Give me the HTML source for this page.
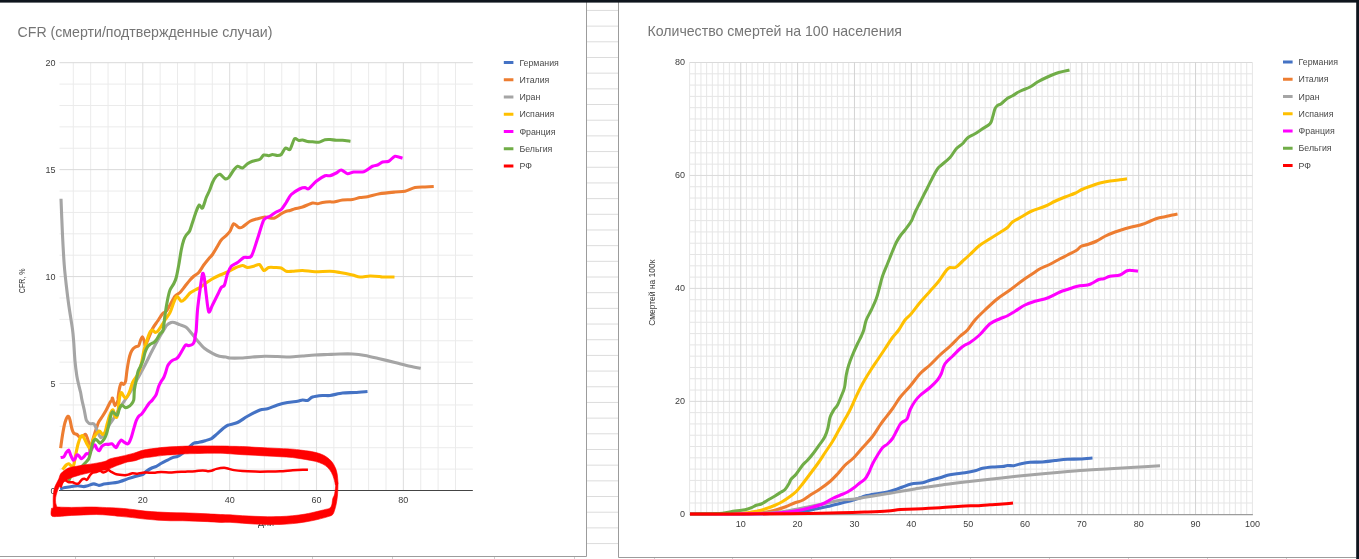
<!DOCTYPE html>
<html lang="ru"><head><meta charset="utf-8"><title>CFR</title>
<style>html,body{margin:0;padding:0;background:#fff;}body{width:1359px;height:559px;overflow:hidden;}svg{display:block;font-family:'Liberation Sans', Arial, sans-serif;will-change:transform;}.t{fill:#757575;font-size:14.6px;}.ax{fill:#3c3c3c;font-size:9px;}.lg{fill:#4a4a4a;font-size:8.8px;}.c{fill:none;stroke-linejoin:round;stroke-linecap:butt;}</style></head><body>
<svg width="1359" height="559" viewBox="0 0 1359 559">
<rect width="1359" height="559" fill="#fff"/>
<path d="M587 10.45H618M587 26.13H618M587 41.81H618M587 57.49H618M587 73.17H618M587 88.85H618M587 104.53H618M587 120.21H618M587 135.89H618M587 151.57H618M587 167.25H618M587 182.93H618M587 198.61H618M587 214.29H618M587 229.97H618M587 245.65H618M587 261.33H618M587 277.01H618M587 292.69H618M587 308.37H618M587 324.05H618M587 339.73H618M587 355.41H618M587 371.09H618M587 386.77H618M587 402.45H618M587 418.13H618M587 433.81H618M587 449.49H618M587 465.17H618M587 480.85H618M587 496.53H618M587 512.21H618M587 527.89H618M587 543.57H618" stroke="#dcdcdc" stroke-width="1" fill="none"/>
<path d="M75.5 557V559M154.5 557V559M233.5 557V559M312.5 557V559M392.5 557V559M494.5 557V559M574.5 557V559M654.5 558V559M732.5 558V559M811.5 558V559M890.5 558V559M970.5 558V559M1049.5 558V559M1128.5 558V559M1207.5 558V559M1286.5 558V559" stroke="#cfcfcf" stroke-width="1" fill="none"/>
<path d="M586.5 2V556.5H0" stroke="#9c9c9c" stroke-width="1" fill="none"/>
<path d="M618.5 2V557.5H1356" stroke="#9c9c9c" stroke-width="1" fill="none"/>
<path d="M59.5 469.11H472.8M59.5 447.72H472.8M59.5 426.33H472.8M59.5 404.94H472.8M59.5 362.16H472.8M59.5 340.77H472.8M59.5 319.38H472.8M59.5 297.99H472.8M59.5 255.21H472.8M59.5 233.82H472.8M59.5 212.43H472.8M59.5 191.04H472.8M59.5 148.26H472.8M59.5 126.87H472.8M59.5 105.48H472.8M59.5 84.09H472.8M73.3 62.7V490.5M90.67 62.7V490.5M108.05 62.7V490.5M125.42 62.7V490.5M160.16 62.7V490.5M177.53 62.7V490.5M194.91 62.7V490.5M212.28 62.7V490.5M247.02 62.7V490.5M264.39 62.7V490.5M281.77 62.7V490.5M299.14 62.7V490.5M333.88 62.7V490.5M351.25 62.7V490.5M368.63 62.7V490.5M386 62.7V490.5M420.74 62.7V490.5M438.11 62.7V490.5M455.49 62.7V490.5" stroke="#ebebeb" stroke-width="1" fill="none"/>
<path d="M142.79 62.7V490.5M229.65 62.7V490.5M316.51 62.7V490.5M403.37 62.7V490.5" stroke="#e0e0e0" stroke-width="1.1" fill="none"/>
<path d="M59.5 490.5H472.8M59.5 383.55H472.8M59.5 276.6H472.8M59.5 169.65H472.8M59.5 62.7H472.8" stroke="#d9d9d9" stroke-width="1" fill="none"/>
<path d="M689.6 503H1252.4M689.6 491.71H1252.4M689.6 480.41H1252.4M689.6 469.12H1252.4M689.6 457.82H1252.4M689.6 446.53H1252.4M689.6 435.23H1252.4M689.6 423.94H1252.4M689.6 412.64H1252.4M689.6 390.05H1252.4M689.6 378.76H1252.4M689.6 367.46H1252.4M689.6 356.17H1252.4M689.6 344.88H1252.4M689.6 333.58H1252.4M689.6 322.28H1252.4M689.6 310.99H1252.4M689.6 299.69H1252.4M689.6 277.11H1252.4M689.6 265.81H1252.4M689.6 254.51H1252.4M689.6 243.22H1252.4M689.6 231.93H1252.4M689.6 220.63H1252.4M689.6 209.33H1252.4M689.6 198.04H1252.4M689.6 186.75H1252.4M689.6 164.16H1252.4M689.6 152.86H1252.4M689.6 141.56H1252.4M689.6 130.27H1252.4M689.6 118.98H1252.4M689.6 107.68H1252.4M689.6 96.39H1252.4M689.6 85.09H1252.4M689.6 73.8H1252.4" stroke="#e5e5e5" stroke-width="1" fill="none"/>
<path d="M689.58 62.5V514.3M695.27 62.5V514.3M700.95 62.5V514.3M706.64 62.5V514.3M712.32 62.5V514.3M718.01 62.5V514.3M723.69 62.5V514.3M729.38 62.5V514.3M735.06 62.5V514.3M746.43 62.5V514.3M752.12 62.5V514.3M757.8 62.5V514.3M763.49 62.5V514.3M769.17 62.5V514.3M774.86 62.5V514.3M780.54 62.5V514.3M786.23 62.5V514.3M791.91 62.5V514.3M803.28 62.5V514.3M808.97 62.5V514.3M814.65 62.5V514.3M820.34 62.5V514.3M826.02 62.5V514.3M831.71 62.5V514.3M837.39 62.5V514.3M843.08 62.5V514.3M848.76 62.5V514.3M860.13 62.5V514.3M865.82 62.5V514.3M871.5 62.5V514.3M877.19 62.5V514.3M882.88 62.5V514.3M888.56 62.5V514.3M894.25 62.5V514.3M899.93 62.5V514.3M905.62 62.5V514.3M916.98 62.5V514.3M922.67 62.5V514.3M928.36 62.5V514.3M934.04 62.5V514.3M939.72 62.5V514.3M945.41 62.5V514.3M951.1 62.5V514.3M956.78 62.5V514.3M962.46 62.5V514.3M973.84 62.5V514.3M979.52 62.5V514.3M985.2 62.5V514.3M990.89 62.5V514.3M996.57 62.5V514.3M1002.26 62.5V514.3M1007.94 62.5V514.3M1013.63 62.5V514.3M1019.31 62.5V514.3M1030.68 62.5V514.3M1036.37 62.5V514.3M1042.05 62.5V514.3M1047.74 62.5V514.3M1053.42 62.5V514.3M1059.11 62.5V514.3M1064.8 62.5V514.3M1070.48 62.5V514.3M1076.16 62.5V514.3M1087.53 62.5V514.3M1093.22 62.5V514.3M1098.9 62.5V514.3M1104.59 62.5V514.3M1110.27 62.5V514.3M1115.96 62.5V514.3M1121.64 62.5V514.3M1127.33 62.5V514.3M1133.01 62.5V514.3M1144.38 62.5V514.3M1150.07 62.5V514.3M1155.75 62.5V514.3M1161.44 62.5V514.3M1167.12 62.5V514.3M1172.81 62.5V514.3M1178.49 62.5V514.3M1184.18 62.5V514.3M1189.87 62.5V514.3M1201.23 62.5V514.3M1206.92 62.5V514.3M1212.61 62.5V514.3M1218.29 62.5V514.3M1223.97 62.5V514.3M1229.66 62.5V514.3M1235.34 62.5V514.3M1241.03 62.5V514.3M1246.71 62.5V514.3M1252.4 62.5V514.3" stroke="#e6e6e6" stroke-width="1" fill="none"/>
<path d="M689.6 401.35H1252.4M689.6 288.4H1252.4M689.6 175.45H1252.4M689.6 62.5H1252.4" stroke="#dadada" stroke-width="1" fill="none"/>
<path d="M740.75 62.5V514.3M797.6 62.5V514.3M854.45 62.5V514.3M911.3 62.5V514.3M968.15 62.5V514.3M1025 62.5V514.3M1081.85 62.5V514.3M1138.7 62.5V514.3M1195.55 62.5V514.3" stroke="#d3d3d3" stroke-width="1" fill="none"/>
<path d="M689.6 514.65H1252.9" stroke="#9c9c9c" stroke-width="1.25" fill="none"/>
<text class="t" x="17.5" y="37.3" textLength="255" lengthAdjust="spacingAndGlyphs">CFR (смерти/подтвержденные случаи)</text>
<text class="t" x="647.5" y="35.9" textLength="254.5" lengthAdjust="spacingAndGlyphs">Количество смертей на 100 населения</text>
<text class="ax" x="55.4" y="493.9" text-anchor="end">0</text>
<text class="ax" x="55.4" y="386.95" text-anchor="end">5</text>
<text class="ax" x="55.4" y="280" text-anchor="end">10</text>
<text class="ax" x="55.4" y="173.05" text-anchor="end">15</text>
<text class="ax" x="55.4" y="66.1" text-anchor="end">20</text>
<text class="ax" x="142.79" y="503.2" text-anchor="middle">20</text>
<text class="ax" x="229.65" y="503.2" text-anchor="middle">40</text>
<text class="ax" x="316.51" y="503.2" text-anchor="middle">60</text>
<text class="ax" x="403.37" y="503.2" text-anchor="middle">80</text>
<text class="ax" x="266" y="525.6" text-anchor="middle">Дни</text>
<text class="ax" transform="translate(24.6 293.2) rotate(-90)" style="font-size:8.4px" textLength="24.8" lengthAdjust="spacingAndGlyphs">CFR, %</text>
<text class="ax" x="685.1" y="517" text-anchor="end">0</text>
<text class="ax" x="685.1" y="404.05" text-anchor="end">20</text>
<text class="ax" x="685.1" y="291.1" text-anchor="end">40</text>
<text class="ax" x="685.1" y="178.15" text-anchor="end">60</text>
<text class="ax" x="685.1" y="65.2" text-anchor="end">80</text>
<text class="ax" x="740.75" y="527.2" text-anchor="middle">10</text>
<text class="ax" x="797.6" y="527.2" text-anchor="middle">20</text>
<text class="ax" x="854.45" y="527.2" text-anchor="middle">30</text>
<text class="ax" x="911.3" y="527.2" text-anchor="middle">40</text>
<text class="ax" x="968.15" y="527.2" text-anchor="middle">50</text>
<text class="ax" x="1025" y="527.2" text-anchor="middle">60</text>
<text class="ax" x="1081.85" y="527.2" text-anchor="middle">70</text>
<text class="ax" x="1138.7" y="527.2" text-anchor="middle">80</text>
<text class="ax" x="1195.55" y="527.2" text-anchor="middle">90</text>
<text class="ax" x="1252.4" y="527.2" text-anchor="middle">100</text>
<text class="ax" transform="translate(654.7 325.8) rotate(-90)" textLength="66.2" lengthAdjust="spacingAndGlyphs">Смертей на 100к</text>
<rect x="503.8" y="61" width="9.6" height="3" fill="#4472c4"/>
<text class="lg" x="519.4" y="65.7">Германия</text>
<rect x="1283" y="60.5" width="9.6" height="3" fill="#4472c4"/>
<text class="lg" x="1298.6" y="65.2">Германия</text>
<rect x="503.8" y="78.25" width="9.6" height="3" fill="#ed7d31"/>
<text class="lg" x="519.4" y="82.95">Италия</text>
<rect x="1283" y="77.75" width="9.6" height="3" fill="#ed7d31"/>
<text class="lg" x="1298.6" y="82.45">Италия</text>
<rect x="503.8" y="95.5" width="9.6" height="3" fill="#a5a5a5"/>
<text class="lg" x="519.4" y="100.2">Иран</text>
<rect x="1283" y="95" width="9.6" height="3" fill="#a5a5a5"/>
<text class="lg" x="1298.6" y="99.7">Иран</text>
<rect x="503.8" y="112.75" width="9.6" height="3" fill="#ffc000"/>
<text class="lg" x="519.4" y="117.45">Испания</text>
<rect x="1283" y="112.25" width="9.6" height="3" fill="#ffc000"/>
<text class="lg" x="1298.6" y="116.95">Испания</text>
<rect x="503.8" y="130" width="9.6" height="3" fill="#ff00ff"/>
<text class="lg" x="519.4" y="134.7">Франция</text>
<rect x="1283" y="129.5" width="9.6" height="3" fill="#ff00ff"/>
<text class="lg" x="1298.6" y="134.2">Франция</text>
<rect x="503.8" y="147.25" width="9.6" height="3" fill="#70ad47"/>
<text class="lg" x="519.4" y="151.95">Бельгия</text>
<rect x="1283" y="146.75" width="9.6" height="3" fill="#70ad47"/>
<text class="lg" x="1298.6" y="151.45">Бельгия</text>
<rect x="503.8" y="164.5" width="9.6" height="3" fill="#ff0000"/>
<text class="lg" x="519.4" y="169.2">РФ</text>
<rect x="1283" y="164" width="9.6" height="3" fill="#ff0000"/>
<text class="lg" x="1298.6" y="168.7">РФ</text>
<path d="M59 490.5H472.8" stroke="#444444" stroke-width="1" fill="none"/>
<path class="c" d="M60.05 488.85C60.72 488.68 63.56 487.89 65.06 487.59C66.56 487.29 69.66 486.84 71.33 486.59C73 486.34 75.92 485.71 77.59 485.71C79.26 485.71 82.52 486.59 83.86 486.59C85.2 486.59 86.28 486.08 87.62 485.71C88.96 485.34 92.38 483.88 93.88 483.83C95.38 483.78 97.56 485.31 98.9 485.34C100.24 485.37 102.41 484.37 103.91 484.09C105.41 483.81 108.34 483.44 110.18 483.21C112.02 482.98 115.38 482.9 117.69 482.33C120 481.76 125.21 479.69 127.52 478.9C129.83 478.11 133.03 476.98 135.04 476.39C137.05 475.8 141.06 475.18 142.56 474.51C144.06 473.84 145.15 472.21 146.32 471.38C147.49 470.55 149.99 468.92 151.33 468.25C152.67 467.58 155 467.04 156.34 466.37C157.68 465.7 159.85 464.07 161.35 463.23C162.85 462.39 166.12 460.85 167.62 460.1C169.12 459.35 171.29 458.09 172.63 457.59C173.97 457.09 176.3 456.92 177.64 456.34C178.98 455.76 181.32 454.21 182.66 453.21C184 452.21 186.58 449.82 187.67 448.82C188.76 447.82 189.97 446.44 190.8 445.69C191.63 444.94 192.84 443.63 193.93 443.18C195.02 442.73 197.45 442.64 198.95 442.31C200.45 441.98 203.54 441.18 205.21 440.68C206.88 440.18 209.98 439.39 211.48 438.55C212.98 437.71 214.99 435.71 216.49 434.41C217.99 433.11 221.26 429.99 222.76 428.77C224.26 427.55 225.8 426.1 227.77 425.26C229.74 424.42 234.87 423.7 237.5 422.5C240.13 421.3 244.5 417.92 247.5 416.25C250.5 414.58 257.33 411 260 410C262.67 409 265.17 409.42 267.5 408.75C269.83 408.08 274.83 405.83 277.5 405C280.17 404.17 284.83 403 287.5 402.5C290.17 402 295.5 401.58 297.5 401.25C299.5 400.92 301.17 400.1 302.5 400C303.83 399.9 306.17 400.9 307.5 400.5C308.83 400.1 310.5 397.67 312.5 397C314.5 396.33 320.17 395.7 322.5 395.5C324.83 395.3 327.33 395.83 330 395.5C332.67 395.17 339.17 393.4 342.5 393C345.83 392.6 351.67 392.7 355 392.5C358.33 392.3 365.83 391.63 367.5 391.5" stroke="#4472c4" stroke-width="3.1"/>
<path class="c" d="M60.62 448.12C60.87 446.37 61.92 438.42 62.5 435C63.08 431.58 64.25 425 65 422.5C65.75 420 67.45 416.58 68.12 416.25C68.79 415.92 69.5 418.33 70 420C70.5 421.67 71.38 427 71.88 428.75C72.38 430.5 73.08 432.37 73.75 433.12C74.42 433.87 76.13 433.88 76.88 434.38C77.63 434.88 78.63 436.63 79.38 436.88C80.13 437.13 81.67 436.58 82.5 436.25C83.33 435.92 84.95 434.05 85.62 434.38C86.29 434.71 87 437.33 87.5 438.75C88 440.17 89.01 443.33 89.38 445C89.75 446.67 89.75 452.08 90.25 451.25C90.75 450.42 92.32 441.75 93.12 438.75C93.92 435.75 95.5 431 96.25 428.75C97 426.5 97.92 423.55 98.75 421.88C99.58 420.21 101.5 417.83 102.5 416.25C103.5 414.67 105.25 411.83 106.25 410C107.25 408.17 109.25 403.83 110 402.5C110.75 401.17 111.55 400.58 111.88 400C112.21 399.42 112.08 397.37 112.5 398.12C112.92 398.87 114.25 405.37 115 405.62C115.75 405.87 117.7 401.08 118.12 400C118.54 398.92 117.95 399 118.12 397.5C118.29 396 118.96 390.67 119.38 388.75C119.8 386.83 120.67 383.7 121.25 383.12C121.83 382.54 123.17 384.63 123.75 384.38C124.33 384.13 125.2 383 125.62 381.25C126.04 379.5 126.46 374.08 126.88 371.25C127.3 368.42 128.25 362.42 128.75 360C129.25 357.58 130.04 354.62 130.62 353.12C131.2 351.62 132.45 349.58 133.12 348.75C133.79 347.92 134.87 347.3 135.62 346.88C136.37 346.46 138.08 346.54 138.75 345.62C139.42 344.7 140.12 341.17 140.62 340C141.12 338.83 142 336.71 142.5 336.88C143 337.05 143.96 340.17 144.38 341.25C144.8 342.33 144.54 346.67 145.62 345C146.7 343.33 150.92 331.92 152.5 328.75C154.08 325.58 156.17 323.25 157.5 321.25C158.83 319.25 161.33 315.08 162.5 313.75C163.67 312.42 165.25 312.42 166.25 311.25C167.25 310.08 168.83 307 170 305C171.17 303 173.67 297.92 175 296.25C176.33 294.58 178.67 293.83 180 292.5C181.33 291.17 183.67 287.92 185 286.25C186.33 284.58 188.83 281.33 190 280C191.17 278.67 192.58 277.25 193.75 276.25C194.92 275.25 197.42 274 198.75 272.5C200.08 271 202.42 266.83 203.75 265C205.08 263.17 207.58 260.15 208.75 258.75C209.92 257.35 211.33 256.17 212.5 254.5C213.67 252.83 216.33 248.18 217.5 246.25C218.67 244.32 220.08 241.43 221.25 240C222.42 238.57 225.08 236.67 226.25 235.5C227.42 234.33 229 232.82 230 231.25C231 229.68 232.58 224.25 233.75 223.75C234.92 223.25 237.58 227.07 238.75 227.5C239.92 227.93 241 227.83 242.5 227C244 226.17 248 222.35 250 221.25C252 220.15 255.5 219.32 257.5 218.75C259.5 218.18 262.83 217.07 265 217C267.17 216.93 271.58 218.68 273.75 218.25C275.92 217.82 279.58 214.68 281.25 213.75C282.92 212.82 285.08 211.68 286.25 211.25C287.42 210.82 288.83 210.83 290 210.5C291.17 210.17 293.33 209.22 295 208.75C296.67 208.28 300.17 207.77 302.5 207C304.83 206.23 310.5 203.43 312.5 203C314.5 202.57 316.17 203.82 317.5 203.75C318.83 203.68 320.83 202.77 322.5 202.5C324.17 202.23 328.5 201.82 330 201.75C331.5 201.68 332.08 202.23 333.75 202C335.42 201.77 340 200.33 342.5 200C345 199.67 350.17 199.83 352.5 199.5C354.83 199.17 358 197.87 360 197.5C362 197.13 364.9 197.25 367.5 196.75C370.1 196.25 375.83 194.38 379.5 193.75C383.17 193.12 391.6 192.33 395 192C398.4 191.67 402.33 191.85 405 191.25C407.67 190.65 412.33 188.07 415 187.5C417.67 186.93 422.5 187.13 425 187C427.5 186.87 432.58 186.57 433.75 186.5" stroke="#ed7d31" stroke-width="3.1"/>
<path class="c" d="M61 198.75C61.2 203.58 62.07 226.17 62.5 235C62.93 243.83 63.75 258.33 64.25 265C64.75 271.67 65.65 279.67 66.25 285C66.85 290.33 67.92 299.1 68.75 305C69.58 310.9 71.83 324.25 72.5 329.25C73.17 334.25 73.42 338.23 73.75 342.5C74.08 346.77 74.58 356.75 75 361.25C75.42 365.75 76.38 373.08 76.88 376.25C77.38 379.42 78.25 382.83 78.75 385C79.25 387.17 80.2 390.55 80.62 392.5C81.04 394.45 81.4 397.29 81.88 399.62C82.36 401.95 83.67 407.28 84.25 410C84.83 412.72 85.65 418.25 86.25 420C86.85 421.75 88.17 422.62 88.75 423.12C89.33 423.62 89.95 423.67 90.62 423.75C91.29 423.83 93.08 423.33 93.75 423.75C94.42 424.17 95.12 425.88 95.62 426.88C96.12 427.88 97 430.08 97.5 431.25C98 432.42 98.88 434.79 99.38 435.62C99.88 436.45 100.5 437.92 101.25 437.5C102 437.08 103.83 434.33 105 432.5C106.17 430.67 108.67 425.92 110 423.75C111.33 421.58 113.67 418.42 115 416.25C116.33 414.08 118.67 409.67 120 407.5C121.33 405.33 123.67 402 125 400C126.33 398 128.33 395.33 130 392.5C131.67 389.67 135.5 382.42 137.5 378.75C139.5 375.08 143 368.83 145 365C147 361.17 150.5 353.83 152.5 350C154.5 346.17 158.5 338.92 160 336.25C161.5 333.58 162.84 331.47 163.75 330C164.66 328.53 165.84 326.21 166.82 325.21C167.8 324.21 170.12 322.89 171.12 322.53C172.12 322.17 173.19 322.24 174.33 322.53C175.47 322.82 178.13 324.04 179.7 324.68C181.27 325.32 184.57 326.22 186.14 327.36C187.71 328.5 189.93 331.4 191.5 333.26C193.07 335.12 196.22 339.31 197.94 341.31C199.66 343.31 202.38 346.63 204.38 348.28C206.38 349.93 210.96 352.58 212.96 353.65C214.96 354.72 217.68 355.87 219.4 356.33C221.12 356.79 224.43 356.86 225.84 357.08C227.25 357.3 228.11 357.88 230 358C231.89 358.12 237 358.13 240 358C243 357.87 249.17 357.23 252.5 357C255.83 356.77 261.67 356.32 265 356.25C268.33 356.18 274.17 356.4 277.5 356.5C280.83 356.6 286.67 357.07 290 357C293.33 356.93 299.17 356.27 302.5 356C305.83 355.73 311.67 355.2 315 355C318.33 354.8 324.17 354.63 327.5 354.5C330.83 354.37 336.67 354.07 340 354C343.33 353.93 349.17 353.8 352.5 354C355.83 354.2 361.4 354.87 365 355.5C368.6 356.13 375.5 357.82 379.5 358.75C383.5 359.68 390.93 361.5 395 362.5C399.07 363.5 406.57 365.48 410 366.25C413.43 367.02 419.32 367.98 420.75 368.25" stroke="#a5a5a5" stroke-width="3.1"/>
<path class="c" d="M62.5 469.62C63 469 65.42 465.78 66.25 465C67.08 464.22 68 463.58 68.75 463.75C69.5 463.92 71.21 466.08 71.88 466.25C72.55 466.42 73.25 466.5 73.75 465C74.25 463.5 75.04 457.83 75.62 455C76.2 452.17 77.45 446.17 78.12 443.75C78.79 441.33 80.04 437.96 80.62 436.88C81.2 435.8 81.92 435.2 82.5 435.62C83.08 436.04 84.33 438.75 85 440C85.67 441.25 86.83 443.92 87.5 445C88.17 446.08 89.33 448.62 90 448.12C90.67 447.62 91.83 442.92 92.5 441.25C93.17 439.58 94.25 436.87 95 435.62C95.75 434.37 97.45 432.46 98.12 431.88C98.79 431.3 99.42 430.92 100 431.25C100.58 431.58 101.83 434.21 102.5 434.38C103.17 434.55 104.42 433.75 105 432.5C105.58 431.25 106.3 427.17 106.88 425C107.46 422.83 108.71 418.17 109.38 416.25C110.05 414.33 111.36 411.42 111.88 410.62C112.4 409.82 112.84 409.46 113.26 410.25C113.68 411.04 114.56 415.62 115.04 416.51C115.52 417.4 116.41 417.79 116.83 416.96C117.25 416.13 117.88 412.34 118.18 410.25C118.48 408.16 118.77 403.52 119.07 401.31C119.37 399.1 120.05 394.83 120.41 393.7C120.77 392.57 121.33 392.51 121.75 392.81C122.17 393.11 123.06 395.22 123.54 395.94C124.02 396.66 124.79 398.18 125.33 398.18C125.87 398.18 126.91 397.07 127.57 395.94C128.23 394.81 129.54 391.59 130.25 389.68C130.96 387.77 131.96 383.59 132.93 381.63C133.9 379.67 136.56 376.72 137.5 375C138.44 373.28 139.42 370.58 140 368.75C140.58 366.92 141.38 363.58 141.88 361.25C142.38 358.92 143.17 353.75 143.75 351.25C144.33 348.75 145.58 344.67 146.25 342.5C146.92 340.33 148.17 336.5 148.75 335C149.33 333.5 150.12 331.92 150.62 331.25C151.12 330.58 151.83 329.83 152.5 330C153.17 330.17 154.79 332.5 155.62 332.5C156.45 332.5 157.5 331.67 158.75 330C160 328.33 163.5 322.33 165 320C166.5 317.67 168.83 314.83 170 312.5C171.17 310.17 172.82 304.67 173.75 302.5C174.68 300.33 176 296.42 177 296.25C178 296.08 180.18 300.92 181.25 301.25C182.32 301.58 183.83 299.85 185 298.75C186.17 297.65 188.67 294.17 190 293C191.33 291.83 193.67 290.73 195 290C196.33 289.27 198.67 288.33 200 287.5C201.33 286.67 203.5 284.82 205 283.75C206.5 282.68 209.25 280.67 211.25 279.5C213.25 278.33 217.83 276 220 275C222.17 274 225.5 272.93 227.5 272C229.5 271.07 233 268.87 235 268C237 267.13 240.83 265.57 242.5 265.5C244.17 265.43 246 267.4 247.5 267.5C249 267.6 252.15 266.65 253.75 266.25C255.35 265.85 258.17 263.93 259.5 264.5C260.83 265.07 262.52 270.1 263.75 270.5C264.98 270.9 267.25 267.9 268.75 267.5C270.25 267.1 273.33 267.43 275 267.5C276.67 267.57 279.75 267.5 281.25 268C282.75 268.5 284.75 270.82 286.25 271.25C287.75 271.68 290.33 271.35 292.5 271.25C294.67 271.15 299.5 270.43 302.5 270.5C305.5 270.57 311.33 271.65 315 271.75C318.67 271.85 326.67 271.15 330 271.25C333.33 271.35 337 272 340 272.5C343 273 349.83 274.4 352.5 275C355.17 275.6 357.67 276.87 360 277C362.33 277.13 367.4 276.07 370 276C372.6 275.93 377.83 276.37 379.5 276.5C381.17 276.63 380.5 276.93 382.5 277C384.5 277.07 392.9 277 394.5 277" stroke="#ffc000" stroke-width="3.1"/>
<path class="c" d="M60.62 457.5C61.04 457.42 63 457.55 63.75 456.88C64.5 456.21 65.58 453.42 66.25 452.5C66.92 451.58 68.17 449.67 68.75 450C69.33 450.33 70.04 453.67 70.62 455C71.2 456.33 72.54 459.5 73.12 460C73.7 460.5 74.5 459.42 75 458.75C75.5 458.08 76.38 455.42 76.88 455C77.38 454.58 78.17 455.12 78.75 455.62C79.33 456.12 80.58 458.58 81.25 458.75C81.92 458.92 83.08 457.55 83.75 456.88C84.42 456.21 85.58 454.17 86.25 453.75C86.92 453.33 88.08 454.25 88.75 453.75C89.42 453.25 90.67 451 91.25 450C91.83 449 92.62 446.92 93.12 446.25C93.62 445.58 94.5 444.67 95 445C95.5 445.33 96.3 448 96.88 448.75C97.46 449.5 98.71 450.95 99.38 450.62C100.05 450.29 101.13 447.08 101.88 446.25C102.63 445.42 104.08 444.63 105 444.38C105.92 444.13 107.83 444.46 108.75 444.38C109.67 444.3 111.13 443.5 111.88 443.75C112.63 444 113.8 445.75 114.38 446.25C114.96 446.75 115.67 447.92 116.25 447.5C116.83 447.08 118.08 444.12 118.75 443.12C119.42 442.12 120.58 440.17 121.25 440C121.92 439.83 123 441.38 123.75 441.88C124.5 442.38 126.21 443.58 126.88 443.75C127.55 443.92 128.17 443.95 128.75 443.12C129.33 442.29 130.58 439.42 131.25 437.5C131.92 435.58 133.08 431 133.75 428.75C134.42 426.5 135.58 422.29 136.25 420.62C136.92 418.95 138 417.17 138.75 416.25C139.5 415.33 141.05 414.67 141.88 413.75C142.71 412.83 144.08 410.71 145 409.38C145.92 408.05 147.83 404.92 148.75 403.75C149.67 402.58 151.21 401.37 151.88 400.62C152.55 399.87 153.17 398.95 153.75 398.12C154.33 397.29 155.58 395.96 156.25 394.38C156.92 392.8 158.08 388 158.75 386.25C159.42 384.5 160.58 382.42 161.25 381.25C161.92 380.08 163.17 378.67 163.75 377.5C164.33 376.33 165.12 374 165.62 372.5C166.12 371 166.92 367.58 167.5 366.25C168.08 364.92 169.25 363.33 170 362.5C170.75 361.67 172.29 360.5 173.12 360C173.95 359.5 175.5 359.25 176.25 358.75C177 358.25 177.92 357.42 178.75 356.25C179.58 355.08 181.58 351.5 182.5 350C183.42 348.5 184.79 345.58 185.62 345C186.45 344.42 187.83 345.7 188.75 345.62C189.67 345.54 191.75 344.96 192.5 344.38C193.25 343.8 193.96 342.67 194.38 341.25C194.8 339.83 195.37 335.25 195.62 333.75C195.87 332.25 196 333.17 196.25 330C196.5 326.83 197 315.33 197.5 310C198 304.67 199.33 294.83 200 290C200.67 285.17 201.93 275.42 202.5 273.75C203.07 272.08 203.75 274.67 204.25 277.5C204.75 280.33 205.65 290.4 206.25 295C206.85 299.6 207.92 310.67 208.75 312C209.58 313.33 211.33 307.27 212.5 305C213.67 302.73 216.33 297.33 217.5 295C218.67 292.67 220.32 288.83 221.25 287.5C222.18 286.17 223.67 286.83 224.5 285C225.33 283.17 226.6 276.25 227.5 273.75C228.4 271.25 229.92 267.75 231.25 266.25C232.58 264.75 235.83 263.67 237.5 262.5C239.17 261.33 241.92 258.33 243.75 257.5C245.58 256.67 249.42 258.75 251.25 256.25C253.08 253.75 255.83 243.58 257.5 238.75C259.17 233.92 262.08 223 263.75 220C265.42 217 268.33 217.32 270 216.25C271.67 215.18 274.75 212.9 276.25 212C277.75 211.1 279.92 210.77 281.25 209.5C282.58 208.23 284.92 204.5 286.25 202.5C287.58 200.5 289.42 196.33 291.25 194.5C293.08 192.67 298.17 189.68 300 188.75C301.83 187.82 303.83 187.5 305 187.5C306.17 187.5 307.25 189.58 308.75 188.75C310.25 187.92 314.08 182.98 316.25 181.25C318.42 179.52 323.17 176.48 325 175.75C326.83 175.02 328.5 176.12 330 175.75C331.5 175.38 334.75 173.77 336.25 173C337.75 172.23 339.75 169.9 341.25 170C342.75 170.1 345.83 173.48 347.5 173.75C349.17 174.02 351.58 172.27 353.75 172C355.92 171.73 361.25 172.52 363.75 171.75C366.25 170.98 370.67 167.15 372.5 166.25C374.33 165.35 376.17 165.57 377.5 165C378.83 164.43 381 162.5 382.5 162C384 161.5 387.08 162.02 388.75 161.25C390.42 160.48 393.17 156.65 395 156.25C396.83 155.85 401.5 157.98 402.5 158.25" stroke="#ff00ff" stroke-width="3.1"/>
<path class="c" d="M68.6 481C68.79 480.6 69.6 478.85 70 478C70.4 477.15 70.53 475.67 71.6 474.6C72.67 473.53 76.13 471.61 78 470C79.87 468.39 84.19 464 85.62 462.5C87.05 461 88.08 460.08 88.75 458.75C89.42 457.42 90.12 454.5 90.62 452.5C91.12 450.5 91.92 445.5 92.5 443.75C93.08 442 94.33 439.8 95 439.38C95.67 438.96 96.83 440.12 97.5 440.62C98.17 441.12 99.33 443.04 100 443.12C100.67 443.2 101.83 442 102.5 441.25C103.17 440.5 104.42 438.67 105 437.5C105.58 436.33 106.38 434.17 106.88 432.5C107.38 430.83 108.25 427.17 108.75 425C109.25 422.83 110.12 418 110.62 416.25C111.12 414.5 111.92 412.21 112.5 411.88C113.08 411.55 114.33 413.33 115 413.75C115.67 414.17 116.92 415.67 117.5 415C118.08 414.33 118.8 410.08 119.38 408.75C119.96 407.42 121.13 405.17 121.88 405C122.63 404.83 124.17 407.25 125 407.5C125.83 407.75 127.29 407.3 128.12 406.88C128.95 406.46 130.5 405.3 131.25 404.38C132 403.46 133.33 401.92 133.75 400C134.17 398.08 134.05 392.67 134.38 390C134.71 387.33 135.75 382.5 136.25 380C136.75 377.5 137.54 373.08 138.12 371.25C138.7 369.42 139.95 367.75 140.62 366.25C141.29 364.75 142.54 361.83 143.12 360C143.7 358.17 144.42 354.25 145 352.5C145.58 350.75 146.83 347.96 147.5 346.88C148.17 345.8 149.17 344.96 150 344.38C150.83 343.8 152.92 343.08 153.75 342.5C154.58 341.92 155.42 341.17 156.25 340C157.08 338.83 159.08 335.08 160 333.75C160.92 332.42 162.45 332.5 163.12 330C163.79 327.5 164.42 319 165 315C165.58 311 166.83 303.33 167.5 300C168.17 296.67 169.17 292.17 170 290C170.83 287.83 172.92 285.42 173.75 283.75C174.58 282.08 175.58 280 176.25 277.5C176.92 275 178.08 268.67 178.75 265C179.42 261.33 180.58 253.33 181.25 250C181.92 246.67 183.08 242 183.75 240C184.42 238 185.48 236.17 186.25 235C187.02 233.83 188.67 232.92 189.5 231.25C190.33 229.58 191.6 225.17 192.5 222.5C193.4 219.83 195.35 213.58 196.25 211.25C197.15 208.92 198.42 205.43 199.25 205C200.08 204.57 201.57 209 202.5 208C203.43 207 205.32 199.83 206.25 197.5C207.18 195.17 208.67 192.5 209.5 190.5C210.33 188.5 211.6 184.4 212.5 182.5C213.4 180.6 215.25 177.35 216.25 176.25C217.25 175.15 218.83 173.92 220 174.25C221.17 174.58 223.83 178.32 225 178.75C226.17 179.18 227.58 178.67 228.75 177.5C229.92 176.33 232.58 171.5 233.75 170C234.92 168.5 236.33 166.52 237.5 166.25C238.67 165.98 241.17 168.33 242.5 168C243.83 167.67 246.17 164.65 247.5 163.75C248.83 162.85 250.83 161.85 252.5 161.25C254.17 160.65 258.5 160.08 260 159.25C261.5 158.42 262.58 155.47 263.75 155C264.92 154.53 267.58 155.82 268.75 155.75C269.92 155.68 271.33 154.53 272.5 154.5C273.67 154.47 276.33 155.5 277.5 155.5C278.67 155.5 280.18 155.5 281.25 154.5C282.32 153.5 284.33 148.67 285.5 148C286.67 147.33 288.8 150.73 290 149.5C291.2 148.27 293.33 139.95 294.5 138.75C295.67 137.55 297.68 140.33 298.75 140.5C299.82 140.67 301.33 139.87 302.5 140C303.67 140.13 306.17 141.27 307.5 141.5C308.83 141.73 311 141.65 312.5 141.75C314 141.85 317.08 142.52 318.75 142.25C320.42 141.98 323.5 140.12 325 139.75C326.5 139.38 328.5 139.43 330 139.5C331.5 139.57 334.58 140.15 336.25 140.25C337.92 140.35 340.6 140.12 342.5 140.25C344.4 140.38 349.43 141.12 350.5 141.25" stroke="#70ad47" stroke-width="3.1"/>
<path class="c" d="M60.5 487.5C60.77 486.77 61.89 482.99 62.5 482C63.11 481.01 64.3 480.09 65.06 480.08C65.82 480.07 67.2 481.65 68.2 481.95C69.2 482.25 71.49 482.08 72.58 482.33C73.67 482.58 75.5 483.71 76.34 483.83C77.18 483.95 78.1 483.79 78.85 483.21C79.6 482.63 81.23 480.04 81.98 479.45C82.73 478.86 83.82 478.77 84.49 478.82C85.16 478.87 86.24 480.32 86.99 479.82C87.74 479.32 89.38 476.03 90.13 475.06C90.88 474.09 91.8 472.98 92.63 472.56C93.46 472.14 95.39 472.18 96.39 471.93C97.39 471.68 99.31 470.63 100.15 470.68C100.99 470.73 101.99 472.14 102.66 472.31C103.33 472.48 104.41 472.23 105.16 471.93C105.91 471.63 107.46 470.05 108.3 470.05C109.14 470.05 110.51 471.43 111.43 471.93C112.35 472.43 114.36 473.48 115.19 473.81C116.02 474.14 116.38 474.26 117.69 474.44C119 474.62 123.53 475.13 125.01 475.14C126.49 475.15 127.77 474.76 128.77 474.51C129.77 474.26 131.36 473.38 132.53 473.26C133.7 473.14 136.2 473.71 137.54 473.63C138.88 473.55 141.06 472.76 142.56 472.63C144.06 472.5 147.15 472.63 148.82 472.63C150.49 472.63 153.42 472.71 155.09 472.63C156.76 472.55 159.34 472.04 161.35 472.01C163.36 471.98 168.12 472.38 170.13 472.38C172.14 472.38 174.39 472.11 176.39 472.01C178.39 471.91 182.65 471.75 185.16 471.63C187.67 471.51 192.85 471.3 195.19 471.13C197.53 470.96 201.04 470.38 202.71 470.38C204.38 470.38 206.55 471.08 207.72 471.13C208.89 471.18 210.31 471.05 211.48 470.75C212.65 470.45 214.82 469.25 216.49 468.87C218.16 468.49 222.34 467.87 224.01 467.87C225.68 467.87 227.68 468.57 229.02 468.87C230.36 469.17 232.24 469.83 234.04 470.13C235.84 470.43 239.73 470.9 242.53 471.1C245.33 471.3 251.72 471.53 255.06 471.6C258.4 471.67 264.25 471.63 267.59 471.6C270.93 471.57 276.79 471.52 280.13 471.35C283.47 471.18 289.65 470.55 292.66 470.35C295.67 470.15 300.64 469.92 302.68 469.85C304.72 469.78 307.24 469.85 307.94 469.85" stroke="#ff0000" stroke-width="2.5"/>
<path class="c" d="M690 514C703.33 513.93 751.67 513.93 770 513.6C788.33 513.27 792.5 512.77 800 512C807.5 511.23 810.42 509.92 815 509C819.58 508.08 822.92 507.54 827.5 506.5C832.08 505.46 838.33 503.79 842.5 502.75C846.67 501.71 849.58 501.08 852.5 500.25C855.42 499.42 857.92 498.46 860 497.75C862.08 497.04 862.5 496.62 865 496C867.5 495.38 871.25 494.67 875 494C878.75 493.33 884.17 492.71 887.5 492C890.83 491.29 892.5 490.58 895 489.75C897.5 488.92 899.79 487.96 902.5 487C905.21 486.04 907.92 484.71 911.25 484C914.58 483.29 919.38 483.38 922.5 482.75C925.62 482.12 927.08 481.08 930 480.25C932.92 479.42 937.08 478.58 940 477.75C942.92 476.92 945 475.88 947.5 475.25C950 474.62 952.08 474.42 955 474C957.92 473.58 961.67 473.29 965 472.75C968.33 472.21 972.08 471.5 975 470.75C977.92 470 979.58 468.88 982.5 468.25C985.42 467.62 989.17 467.29 992.5 467C995.83 466.71 1000 466.75 1002.5 466.5C1005 466.25 1005.62 465.62 1007.5 465.5C1009.38 465.38 1011.67 466 1013.75 465.75C1015.83 465.5 1017.29 464.58 1020 464C1022.71 463.42 1026.25 462.58 1030 462.25C1033.75 461.92 1038.33 462.29 1042.5 462C1046.67 461.71 1050.83 460.96 1055 460.5C1059.17 460.04 1063.33 459.5 1067.5 459.25C1071.67 459 1075.83 459.21 1080 459C1084.17 458.79 1090.42 458.17 1092.5 458" stroke="#4472c4" stroke-width="3.05"/>
<path class="c" d="M690 514C699.17 513.97 732.92 514.01 745 513.8C757.08 513.59 757.5 513.34 762.5 512.75C767.5 512.16 771.25 511.21 775 510.25C778.75 509.29 781.67 508.25 785 507C788.33 505.75 792.08 503.88 795 502.75C797.92 501.62 800 501.5 802.5 500.25C805 499 807.08 497.12 810 495.25C812.92 493.38 816.67 491.29 820 489C823.33 486.71 827.08 484 830 481.5C832.92 479 835 476.71 837.5 474C840 471.29 842.29 467.96 845 465.25C847.71 462.54 850.83 460.67 853.75 457.75C856.67 454.83 859.38 451.29 862.5 447.75C865.62 444.21 869.58 440.25 872.5 436.5C875.42 432.75 878.12 428 880 425.25C881.88 422.5 881.67 422.75 883.75 420C885.83 417.25 889.79 412.5 892.5 408.75C895.21 405 897.08 401.25 900 397.5C902.92 393.75 906.67 390.21 910 386.25C913.33 382.29 916.67 377.29 920 373.75C923.33 370.21 926.67 368.12 930 365C933.33 361.88 936.67 358.12 940 355C943.33 351.88 946.67 349.38 950 346.25C953.33 343.12 957.08 338.96 960 336.25C962.92 333.54 965 332.71 967.5 330C970 327.29 972.08 323.33 975 320C977.92 316.67 981.25 313.54 985 310C988.75 306.46 993.33 302.08 997.5 298.75C1001.67 295.42 1005.83 293.04 1010 290C1014.17 286.96 1018.75 283.21 1022.5 280.5C1026.25 277.79 1029.58 275.71 1032.5 273.75C1035.42 271.79 1037.08 270.33 1040 268.75C1042.92 267.17 1046.67 265.92 1050 264.25C1053.33 262.58 1057.08 260.29 1060 258.75C1062.92 257.21 1064.79 256.38 1067.5 255C1070.21 253.62 1073.96 251.96 1076.25 250.5C1078.54 249.04 1079.38 247.25 1081.25 246.25C1083.12 245.25 1085 245.33 1087.5 244.5C1090 243.67 1093.33 242.62 1096.25 241.25C1099.17 239.88 1101.88 237.79 1105 236.25C1108.12 234.71 1111.67 233.25 1115 232C1118.33 230.75 1121.67 229.71 1125 228.75C1128.33 227.79 1132.08 227 1135 226.25C1137.92 225.5 1140 225.08 1142.5 224.25C1145 223.42 1147.5 222.25 1150 221.25C1152.5 220.25 1155 219 1157.5 218.25C1160 217.5 1162.5 217.29 1165 216.75C1167.5 216.21 1170.42 215.46 1172.5 215C1174.58 214.54 1176.67 214.17 1177.5 214" stroke="#ed7d31" stroke-width="3.05"/>
<path class="c" d="M690 514C700 513.95 735 514.03 750 513.7C765 513.37 772.5 512.7 780 512C787.5 511.3 790 510.42 795 509.5C800 508.58 805 507.5 810 506.5C815 505.5 820 504.54 825 503.5C830 502.46 835 501 840 500.25C845 499.5 850.83 499.5 855 499C859.17 498.5 861.25 497.88 865 497.25C868.75 496.62 873.33 495.92 877.5 495.25C881.67 494.58 885.83 493.96 890 493.25C894.17 492.54 898.33 491.71 902.5 491C906.67 490.29 910.83 489.67 915 489C919.17 488.33 923.33 487.62 927.5 487C931.67 486.38 935.83 485.83 940 485.25C944.17 484.67 948.33 484.04 952.5 483.5C956.67 482.96 959.58 482.62 965 482C970.42 481.38 977.5 480.58 985 479.75C992.5 478.92 1001.67 477.88 1010 477C1018.33 476.12 1026.67 475.29 1035 474.5C1043.33 473.71 1051.67 472.96 1060 472.25C1068.33 471.54 1076.67 470.83 1085 470.25C1093.33 469.67 1101.67 469.25 1110 468.75C1118.33 468.25 1126.67 467.75 1135 467.25C1143.33 466.75 1155.83 466 1160 465.75" stroke="#a5a5a5" stroke-width="3.05"/>
<path class="c" d="M690 514C696.67 513.97 720.42 514.01 730 513.8C739.58 513.59 742.92 513.22 747.5 512.75C752.08 512.28 754.58 511.62 757.5 511C760.42 510.38 762.08 509.96 765 509C767.92 508.04 772.08 506.5 775 505.25C777.92 504 780 502.96 782.5 501.5C785 500.04 787.71 498.17 790 496.5C792.29 494.83 794.17 493.58 796.25 491.5C798.33 489.42 800.21 486.92 802.5 484C804.79 481.08 807.5 477.33 810 474C812.5 470.67 815 467.54 817.5 464C820 460.46 822.5 456.5 825 452.75C827.5 449 830.21 445.25 832.5 441.5C834.79 437.75 836.67 434 838.75 430.25C840.83 426.5 843.12 422.38 845 419C846.88 415.62 848.12 413.79 850 410C851.88 406.21 854.17 400.62 856.25 396.25C858.33 391.88 860.21 387.92 862.5 383.75C864.79 379.58 867.5 375.21 870 371.25C872.5 367.29 875 363.75 877.5 360C880 356.25 882.5 352.5 885 348.75C887.5 345 890.21 340.62 892.5 337.5C894.79 334.38 896.67 332.92 898.75 330C900.83 327.08 902.92 322.71 905 320C907.08 317.29 908.75 316.67 911.25 313.75C913.75 310.83 916.88 306.25 920 302.5C923.12 298.75 926.88 294.79 930 291.25C933.12 287.71 936.04 284.71 938.75 281.25C941.46 277.79 944.38 272.79 946.25 270.5C948.12 268.21 948.46 268 950 267.5C951.54 267 953.42 268.54 955.5 267.5C957.58 266.46 960.08 263.42 962.5 261.25C964.92 259.08 967.17 257.12 970 254.5C972.83 251.88 976.17 248.12 979.5 245.5C982.83 242.88 986.58 240.92 990 238.75C993.42 236.58 997.08 234.38 1000 232.5C1002.92 230.62 1005.42 229.25 1007.5 227.5C1009.58 225.75 1010 223.88 1012.5 222C1015 220.12 1019.38 218.04 1022.5 216.25C1025.62 214.46 1027.5 212.92 1031.25 211.25C1035 209.58 1041.04 207.92 1045 206.25C1048.96 204.58 1051.67 202.79 1055 201.25C1058.33 199.71 1061.67 198.33 1065 197C1068.33 195.67 1072.08 194.54 1075 193.25C1077.92 191.96 1079.58 190.54 1082.5 189.25C1085.42 187.96 1089.58 186.54 1092.5 185.5C1095.42 184.46 1097.08 183.75 1100 183C1102.92 182.25 1106.67 181.54 1110 181C1113.33 180.46 1117.17 180.12 1120 179.75C1122.83 179.38 1125.83 178.92 1127 178.75" stroke="#ffc000" stroke-width="3.05"/>
<path class="c" d="M690 514C701.67 513.97 745 514.01 760 513.8C775 513.59 774.17 513.22 780 512.75C785.83 512.28 790 511.83 795 511C800 510.17 805.42 508.92 810 507.75C814.58 506.58 818.75 505.54 822.5 504C826.25 502.46 829.58 499.96 832.5 498.5C835.42 497.04 837.5 496.33 840 495.25C842.5 494.17 845 493.38 847.5 492C850 490.62 852.92 488.54 855 487C857.08 485.46 858.33 484.08 860 482.75C861.67 481.42 863.54 480.67 865 479C866.46 477.33 867.5 475.25 868.75 472.75C870 470.25 871.04 466.92 872.5 464C873.96 461.08 875.83 457.96 877.5 455.25C879.17 452.54 880.83 449.62 882.5 447.75C884.17 445.88 885.83 445.54 887.5 444C889.17 442.46 891.04 440.58 892.5 438.5C893.96 436.42 895 433.83 896.25 431.5C897.5 429.17 898.96 426.08 900 424.5C901.04 422.92 901.33 422.92 902.5 422C903.67 421.08 905.75 421 907 419C908.25 417 908.67 412.96 910 410C911.33 407.04 913.33 403.67 915 401.25C916.67 398.83 917.5 397.79 920 395.5C922.5 393.21 927.08 390.08 930 387.5C932.92 384.92 935.62 382.29 937.5 380C939.38 377.71 940 376.46 941.25 373.75C942.5 371.04 943.12 366.67 945 363.75C946.88 360.83 950 358.75 952.5 356.25C955 353.75 957.92 350.62 960 348.75C962.08 346.88 963.33 346.04 965 345C966.67 343.96 967.58 344.17 970 342.5C972.42 340.83 976.17 338.12 979.5 335C982.83 331.88 986.58 326.46 990 323.75C993.42 321.04 997.08 320.08 1000 318.75C1002.92 317.42 1005 317 1007.5 315.75C1010 314.5 1012.08 313.04 1015 311.25C1017.92 309.46 1021.67 306.67 1025 305C1028.33 303.33 1031.25 302.42 1035 301.25C1038.75 300.08 1043.33 299.54 1047.5 298C1051.67 296.46 1056.67 293.42 1060 292C1063.33 290.58 1064.58 290.46 1067.5 289.5C1070.42 288.54 1074.17 287 1077.5 286.25C1080.83 285.5 1085 285.54 1087.5 285C1090 284.46 1090.62 283.92 1092.5 283C1094.38 282.08 1096.88 280.21 1098.75 279.5C1100.62 278.79 1101.88 279.29 1103.75 278.75C1105.62 278.21 1107.29 276.88 1110 276.25C1112.71 275.62 1117.17 275.92 1120 275C1122.83 274.08 1124.92 271.5 1127 270.75C1129.08 270 1130.67 270.42 1132.5 270.5C1134.33 270.58 1137.08 271.12 1138 271.25" stroke="#ff00ff" stroke-width="3.05"/>
<path class="c" d="M690 514C693.67 513.95 706.58 513.83 712 513.7C717.42 513.58 718.67 513.7 722.5 513.25C726.33 512.8 731.25 511.58 735 511C738.75 510.42 742.29 510.29 745 509.75C747.71 509.21 749.38 508.5 751.25 507.75C753.12 507 754.58 505.88 756.25 505.25C757.92 504.62 759.38 504.83 761.25 504C763.12 503.17 765.21 501.58 767.5 500.25C769.79 498.92 772.71 497.38 775 496C777.29 494.62 779.58 493.08 781.25 492C782.92 490.92 783.75 490.83 785 489.5C786.25 488.17 787.71 485.75 788.75 484C789.79 482.25 790 480.67 791.25 479C792.5 477.33 794.38 476.29 796.25 474C798.12 471.71 800.62 467.54 802.5 465.25C804.38 462.96 805.62 462.33 807.5 460.25C809.38 458.17 811.67 455.46 813.75 452.75C815.83 450.04 818.12 446.71 820 444C821.88 441.29 823.67 439.21 825 436.5C826.33 433.79 827.17 430.92 828 427.75C828.83 424.58 829.04 420.46 830 417.5C830.96 414.54 832.5 412.08 833.75 410C835 407.92 836.25 407.29 837.5 405C838.75 402.71 840.08 399.17 841.25 396.25C842.42 393.33 843.67 391.04 844.5 387.5C845.33 383.96 845.54 378.75 846.25 375C846.96 371.25 847.71 368.33 848.75 365C849.79 361.67 851.04 358.54 852.5 355C853.96 351.46 856.04 346.88 857.5 343.75C858.96 340.62 860.21 338.54 861.25 336.25C862.29 333.96 862.92 332.71 863.75 330C864.58 327.29 865 323.33 866.25 320C867.5 316.67 869.58 313.54 871.25 310C872.92 306.46 874.88 302.5 876.25 298.75C877.62 295 878.46 291.25 879.5 287.5C880.54 283.75 881.17 280.21 882.5 276.25C883.83 272.29 885.83 267.92 887.5 263.75C889.17 259.58 891.04 254.79 892.5 251.25C893.96 247.71 895 245 896.25 242.5C897.5 240 898.54 238.33 900 236.25C901.46 234.17 903.12 232.5 905 230C906.88 227.5 909.58 224.17 911.25 221.25C912.92 218.33 913.54 215.62 915 212.5C916.46 209.38 918.42 205.67 920 202.5C921.58 199.33 923.25 195.97 924.5 193.5C925.75 191.03 926.17 190.33 927.5 187.7C928.83 185.07 930.83 180.83 932.5 177.7C934.17 174.57 936.03 171 937.5 168.9C938.97 166.8 939.22 167 941.3 165.1C943.38 163.2 947.51 160.22 950 157.5C952.49 154.78 954.17 151.04 956.25 148.75C958.33 146.46 960.62 145.54 962.5 143.75C964.38 141.96 965.42 139.67 967.5 138C969.58 136.33 972.5 135.29 975 133.75C977.5 132.21 980 130.42 982.5 128.75C985 127.08 988.33 125.62 990 123.75C991.67 121.88 991.67 120 992.5 117.5C993.33 115 994.17 110.75 995 108.75C995.83 106.75 996.46 106.33 997.5 105.5C998.54 104.67 999.58 104.96 1001.25 103.75C1002.92 102.54 1005.62 99.58 1007.5 98.25C1009.38 96.92 1010.42 96.92 1012.5 95.75C1014.58 94.58 1017.08 92.71 1020 91.25C1022.92 89.79 1027.08 88.54 1030 87C1032.92 85.46 1034.58 83.67 1037.5 82C1040.42 80.33 1043.96 78.58 1047.5 77C1051.04 75.42 1055.08 73.67 1058.75 72.5C1062.42 71.33 1067.71 70.42 1069.5 70" stroke="#70ad47" stroke-width="3.05"/>
<path class="c" d="M690 514C706.67 513.96 765 513.96 790 513.75C815 513.54 827.5 513.04 840 512.75C852.5 512.46 857.08 512.29 865 512C872.92 511.71 881.67 511.42 887.5 511C893.33 510.58 895.42 509.83 900 509.5C904.58 509.17 908.33 509.29 915 509C921.67 508.71 931.67 508.25 940 507.75C948.33 507.25 959.17 506.33 965 506C970.83 505.67 970.83 505.96 975 505.75C979.17 505.54 985.42 505.04 990 504.75C994.58 504.46 998.67 504.29 1002.5 504C1006.33 503.71 1011.25 503.17 1013 503" stroke="#ff0000" stroke-width="3.05"/>
<path d="M51.53 508.27C51.8 508.12 52.89 508.75 53.16 507.39C53.43 506.03 53.1 502.59 53.16 500.13C53.22 497.67 53.22 494.91 53.53 492.61C53.84 490.31 54.16 488.64 55.04 486.34C55.92 484.04 57.86 480.91 58.8 478.82C59.74 476.73 59.64 475.27 60.68 473.81C61.72 472.35 63.49 471.1 65.06 470.05C66.63 469 66.95 468.38 70.08 467.54C73.21 466.71 79.47 465.77 83.86 465.04C88.25 464.31 92.84 463.79 96.39 463.16C99.94 462.53 102.86 462.01 105.16 461.28C107.46 460.55 107.47 459.6 110.18 458.77C112.9 457.94 117.48 457.21 121.45 456.27C125.42 455.33 130.46 454.12 133.98 453.13C137.5 452.14 139.67 451.05 142.56 450.33C145.45 449.61 147.78 449.32 151.33 448.82C154.88 448.32 159.68 447.69 163.86 447.32C168.04 446.94 172.21 446.78 176.39 446.57C180.57 446.36 183.7 446.18 188.92 446.07C194.14 445.96 201.45 445.94 207.72 445.94C213.99 445.94 222.81 446.01 226.52 446.07C230.23 446.13 227.33 446.21 230 446.29C232.67 446.37 238.35 446.37 242.53 446.54C246.71 446.71 250.88 447.06 255.06 447.29C259.24 447.52 263.41 447.71 267.59 447.92C271.77 448.13 275.95 448.34 280.13 448.55C284.31 448.76 289.32 448.92 292.66 449.17C296 449.42 297.05 449.65 300.18 450.05C303.31 450.45 308.11 450.92 311.45 451.55C314.79 452.18 317.72 452.91 320.23 453.81C322.74 454.71 324.61 455.69 326.49 456.94C328.37 458.19 330.04 459.56 331.5 461.33C332.96 463.1 334.32 465.5 335.26 467.59C336.2 469.68 336.68 471.35 337.14 473.86C337.6 476.37 337.87 480.98 338.02 482.63C338.17 484.28 338.1 481.69 338.02 483.76C337.94 485.83 337.81 491.7 337.52 495.04C337.23 498.38 336.75 501.3 336.27 503.81C335.79 506.32 335.22 508.3 334.64 510.08C334.06 511.86 333.7 513.42 332.76 514.46C331.82 515.5 331.51 515.5 329 516.34C326.49 517.18 321.69 518.53 317.72 519.47C313.75 520.41 309.37 521.29 305.19 521.98C301.01 522.67 296.84 523.19 292.66 523.61C288.48 524.03 284.31 524.34 280.13 524.49C275.95 524.64 271.77 524.55 267.59 524.49C263.41 524.43 259.24 524.32 255.06 524.11C250.88 523.9 246.71 523.52 242.53 523.23C238.35 522.94 233.71 522.5 230 522.36C226.29 522.22 223.96 522.5 220.25 522.38C216.54 522.26 211.9 521.84 207.72 521.63C203.54 521.42 199.37 521.28 195.19 521.13C191.01 520.98 186.84 520.81 182.66 520.75C178.48 520.69 174.31 520.85 170.13 520.75C165.95 520.65 161.77 520.4 157.59 520.13C153.41 519.86 149.24 519.54 145.06 519.12C140.88 518.7 136.71 518.08 132.53 517.62C128.35 517.16 123.94 516.78 120 516.37C116.06 515.96 112.86 515.46 108.92 515.16C104.98 514.86 100.57 514.58 96.39 514.54C92.21 514.5 88.04 514.76 83.86 514.91C79.68 515.05 75.51 515.16 71.33 515.41C67.15 515.66 62.1 516.36 58.8 516.42C55.5 516.48 52.74 517.15 51.53 515.79C50.32 514.43 51.53 509.52 51.53 508.27ZM56.92 507.02C56.71 506.29 55.87 504.2 55.66 502.63C55.45 501.06 55.45 499.29 55.66 497.62C55.87 495.95 56.4 494.28 56.92 492.61C57.44 490.94 57.96 489.16 58.8 487.59C59.63 486.02 60.78 484.36 61.93 483.21C63.08 482.06 64.33 481.53 65.69 480.7C67.05 479.87 68.1 479.03 70.08 478.2C72.06 477.37 74.25 476.63 77.59 475.69C80.93 474.75 86.37 473.39 90.13 472.56C93.89 471.73 97.23 471.2 100.15 470.68C103.07 470.16 105.16 470.15 107.67 469.42C110.18 468.69 113.13 467.11 115.19 466.29C117.25 465.47 117.94 465.21 120 464.49C122.06 463.77 125.01 462.61 127.52 461.98C130.03 461.35 132.53 461.36 135.04 460.73C137.55 460.1 139.84 458.85 142.56 458.22C145.28 457.59 147.78 457.45 151.33 456.97C154.88 456.49 159.68 455.76 163.86 455.34C168.04 454.92 172.84 454.71 176.39 454.46C179.94 454.21 182.03 453.98 185.16 453.83C188.29 453.68 191.43 453.68 195.19 453.58C198.95 453.48 203.54 453.27 207.72 453.21C211.9 453.15 216.54 453.11 220.25 453.21C223.96 453.31 226.29 453.56 230 453.81C233.71 454.06 238.35 454.44 242.53 454.69C246.71 454.94 250.88 455.08 255.06 455.31C259.24 455.54 263.41 455.84 267.59 456.07C271.77 456.3 275.95 456.44 280.13 456.69C284.31 456.94 288.48 457.11 292.66 457.57C296.84 458.03 301.43 458.82 305.19 459.45C308.95 460.08 312.29 460.56 315.21 461.33C318.13 462.1 320.64 463.05 322.73 464.09C324.82 465.13 326.28 466.17 327.74 467.59C329.2 469.01 330.45 470.73 331.5 472.61C332.55 474.49 333.34 476.78 334.01 478.87C334.68 480.96 335.2 484.32 335.51 485.14C335.82 485.95 336.03 482.32 335.89 483.76C335.75 485.2 335.16 491.27 334.64 493.78C334.12 496.29 333.24 496.92 332.76 498.8C332.28 500.68 332.27 503.49 331.75 505.06C331.23 506.63 330.7 507.47 329.62 508.2C328.54 508.93 327.22 508.93 325.24 509.45C323.26 509.97 321.06 510.56 317.72 511.33C314.38 512.1 309.37 513.36 305.19 514.09C301.01 514.82 296.84 515.29 292.66 515.71C288.48 516.13 284.31 516.42 280.13 516.59C275.95 516.76 271.77 516.76 267.59 516.72C263.41 516.68 259.24 516.51 255.06 516.34C250.88 516.17 246.71 515.96 242.53 515.71C238.35 515.46 233.71 515.04 230 514.84C226.29 514.64 223.96 514.65 220.25 514.49C216.54 514.33 211.9 514.07 207.72 513.86C203.54 513.65 199.37 513.4 195.19 513.23C191.01 513.06 186.84 512.96 182.66 512.86C178.48 512.76 174.31 512.76 170.13 512.61C165.95 512.46 161.77 512.23 157.59 511.98C153.41 511.73 149.24 511.52 145.06 511.1C140.88 510.68 136.71 509.95 132.53 509.47C128.35 508.99 124.98 508.57 120 508.22C115.02 507.87 107.64 507.59 102.66 507.39C97.68 507.19 95.35 507.02 90.13 507.02C84.91 507.02 76.86 507.39 71.33 507.39C65.8 507.39 59.32 507.08 56.92 507.02Z" fill="#ff0000" fill-rule="evenodd" stroke="#ff0000" stroke-width="0.6" stroke-linejoin="round"/>
<rect x="0" y="0" width="1359" height="2.6" fill="#0e151d"/>
<rect x="1356.2" y="0" width="3" height="559" fill="#0e151d"/>
</svg></body></html>
